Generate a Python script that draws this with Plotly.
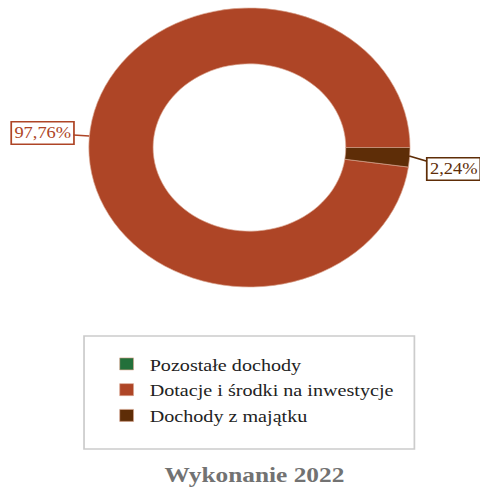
import plotly.graph_objects as go

labels = ["Pozostałe dochody", "Dotacje i środki na inwestycje", "Dochody z majątku"]
values = [0.0, 97.76, 2.24]
colors = ["#23703A", "#AE4526", "#5E2D07"]
title_text = "Wykonanie 2022"

# the original is a round donut stretched sideways; build it narrow, then stretch the page
S = 480 / 417
W, H = 417, 488
cx, r = 216.7, 139.5

serif = "Liberation Serif, Times New Roman, serif"

fig = go.Figure()
fig.add_trace(
    go.Pie(
        labels=labels,
        values=values,
        hole=0.6,
        sort=False,
        direction="counterclockwise",
        rotation=90,
        marker=dict(colors=colors, line=dict(color="#D9A58F", width=0.6)),
        textinfo="none",
        hoverinfo="label+percent",
        domain=dict(x=[(cx - r) / W, (cx + r) / W], y=[1 - 287 / H, 1 - 8 / H]),
    )
)


def fmt(v):
    return f"{v:.2f}".replace(".", ",") + "%"


# outside labels with leader lines
fig.add_annotation(
    x=77.5 / W, y=1 - 136 / H, xref="paper", yref="paper",
    ax=-41, ay=-3, axref="pixel", ayref="pixel",
    text=fmt(values[1]), showarrow=True, arrowhead=0, arrowwidth=1.5,
    arrowcolor=colors[1], bordercolor=colors[1], borderwidth=1.5,
    borderpad=2, bgcolor="white",
    font=dict(family=serif, size=16, color=colors[1]),
)
fig.add_annotation(
    x=355.5 / W, y=1 - 156 / H, xref="paper", yref="paper",
    ax=38, ay=13, axref="pixel", ayref="pixel",
    text=fmt(values[2]), showarrow=True, arrowhead=0, arrowwidth=1.5,
    arrowcolor=colors[2], bordercolor=colors[2], borderwidth=1.5,
    borderpad=2, bgcolor="white",
    font=dict(family=serif, size=16, color=colors[2]),
)

# legend frame
fig.add_shape(
    type="rect", xref="paper", yref="paper",
    x0=73 / W, x1=360 / W, y0=1 - 449 / H, y1=1 - 336 / H,
    line=dict(color="#CCCCCC", width=1.5), fillcolor="rgba(0,0,0,0)",
)

fig.update_layout(
    width=W,
    height=H,
    margin=dict(l=0, r=0, t=0, b=0),
    paper_bgcolor="white",
    plot_bgcolor="white",
    showlegend=True,
    legend=dict(
        x=90 / W, y=1 - 346 / H, xanchor="left", yanchor="top",
        font=dict(family=serif, size=17.5, color="#222222"),
        bgcolor="rgba(0,0,0,0)",
        itemclick=False,
    ),
    title=dict(
        text=f"<b>{title_text}</b>",
        x=221 / W, xanchor="center", y=1 - 474 / H, yanchor="middle",
        font=dict(family=serif, size=22, color="#727272"),
    ),
)

post = (
    "document.body.style.margin='0';"
    "var gd=document.getElementById('{plot_id}');"
    "gd.style.transformOrigin='0 0';"
    "gd.style.transform='scaleX(" + f"{S:.4f}" + ")';"
)
fig.write_html("out.html", post_script=post, config={"displayModeBar": False})
